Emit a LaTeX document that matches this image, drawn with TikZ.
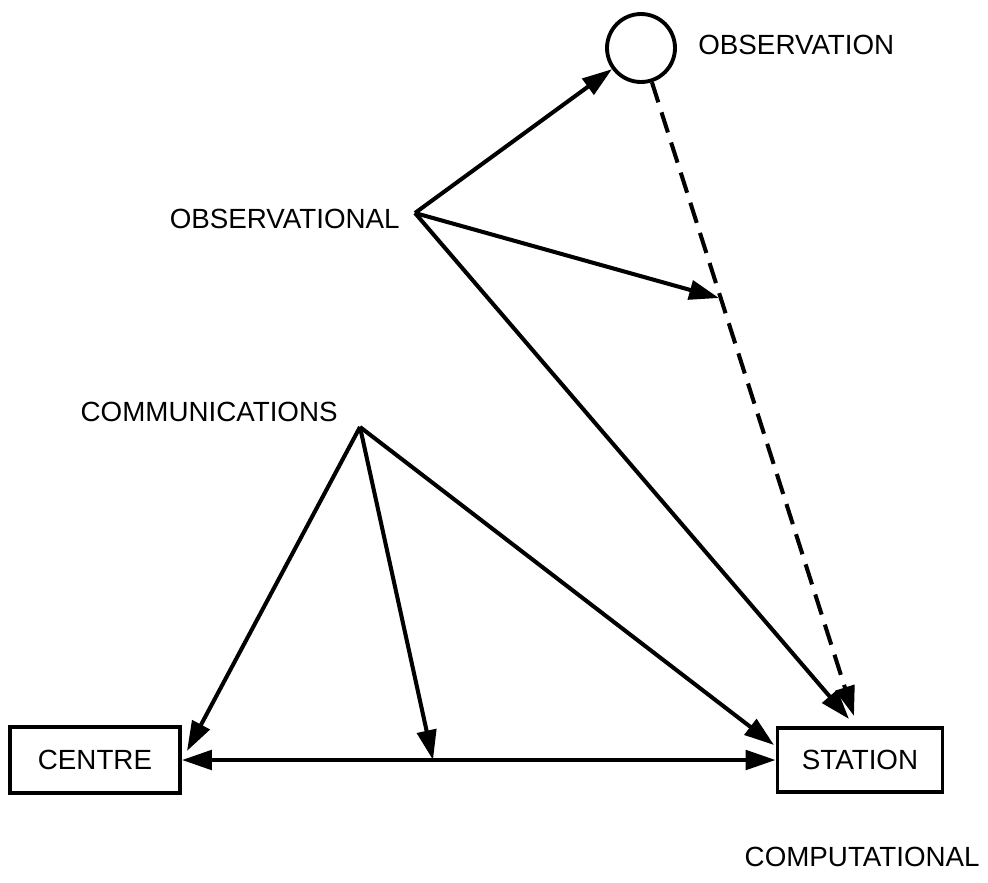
\documentclass[tikz,border=0pt]{standalone}
\usepackage{fontspec}
\setmainfont{Liberation Sans}
\usetikzlibrary{arrows.meta,calc,positioning}
\tikzset{
  lbl/.style={font=\fontsize{15.8}{18}\selectfont,inner sep=0pt},
  boxnode/.style={draw,line width=2.2pt,inner sep=0pt,font=\fontsize{15.8}{18}\selectfont},
  arr/.style={line width=2.3pt,-{Triangle[length=17pt,width=11pt]}},
  dblarr/.style={line width=2.3pt,{Triangle[length=17pt,width=11pt]}-{Triangle[length=17pt,width=11pt]}},
  dasharr/.style={arr,dash pattern=on 12pt off 6pt},
}

\begin{document}
\begin{tikzpicture}[x=0.02cm,y=-0.02cm]
  \useasboundingbox (0,0) rectangle (988,883);
  \coordinate (obsv) at (415,213); \coordinate (comv) at (360,427);
  \node[draw,circle,line width=2.2pt,minimum size=1.36cm,inner sep=0pt] (obs) at (641,48) {};
  \node[lbl,anchor=west] (obslbl) at (698,45) {OBSERVATION};
  \node[lbl,anchor=east] (obsvlbl) at (400,219) {OBSERVATIONAL};
  \node[lbl,anchor=east] (comlbl) at (338,412) {COMMUNICATIONS};
  \node[boxnode,minimum width=3.4cm,minimum height=1.32cm] (centre) at (95,760) {CENTRE};
  \node[boxnode,minimum width=3.3cm,minimum height=1.28cm] (station) at (860,760) {STATION};
  \node[lbl,anchor=east] (complbl) at (980,857) {COMPUTATIONAL};
  \coordinate (dmid) at (719,298); \coordinate (sta) at (849,719); \coordinate (stb) at (854,716);
  \coordinate (cne) at (187,751); \coordinate (hmid) at (433,760); \coordinate (stw) at (774,745);
  \draw[dasharr] (obs) -- (stb);
  \draw[arr] (obsv) -- (obs);
  \draw[arr] (obsv) -- (dmid);
  \draw[arr] (obsv) -- (sta);
  \draw[arr] (comv) -- (cne);
  \draw[arr] (comv) -- (hmid);
  \draw[arr] (comv) -- (stw);
  \draw[dblarr] (centre.east) -- (station.west);
\end{tikzpicture}
\end{document}
